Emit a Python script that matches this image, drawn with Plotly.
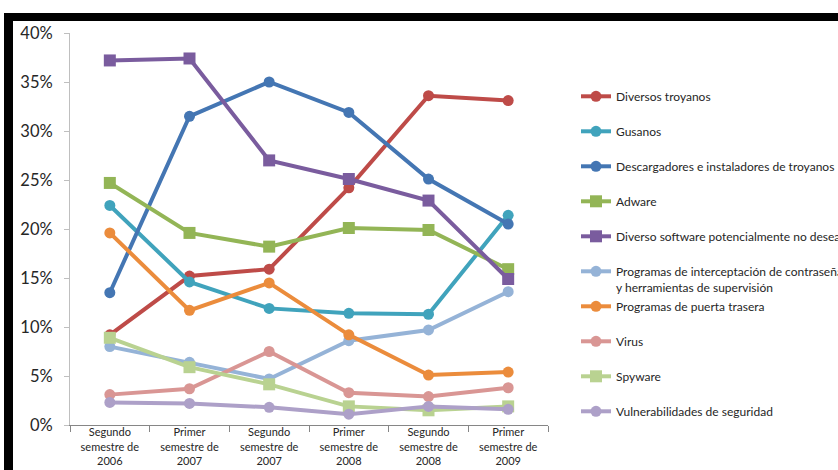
import plotly.graph_objects as go

# Periods (x categories)
periods = [
    "Segundo<br>semestre de<br>2006",
    "Primer<br>semestre de<br>2007",
    "Segundo<br>semestre de<br>2007",
    "Primer<br>semestre de<br>2008",
    "Segundo<br>semestre de<br>2008",
    "Primer<br>semestre de<br>2009",
]

# Share of detections per category, in percent
diversos_troyanos = [9.2, 15.2, 15.9, 24.2, 33.6, 33.1]
gusanos = [22.4, 14.6, 11.9, 11.4, 11.3, 21.4]
descargadores = [13.5, 31.5, 35.0, 31.9, 25.1, 20.5]
adware = [24.7, 19.6, 18.2, 20.1, 19.9, 15.9]
diverso_software = [37.2, 37.4, 27.0, 25.1, 22.9, 14.9]
interceptacion = [8.0, 6.4, 4.7, 8.6, 9.7, 13.6]
puerta_trasera = [19.6, 11.7, 14.5, 9.2, 5.1, 5.4]
virus = [3.1, 3.7, 7.5, 3.3, 2.9, 3.8]
spyware = [8.9, 5.9, 4.15, 1.9, 1.5, 1.9]
vulnerabilidades = [2.3, 2.2, 1.8, 1.1, 1.9, 1.6]

y_ticks = [0, 5, 10, 15, 20, 25, 30, 35, 40]
y_tick_labels = [f"{v}%" for v in y_ticks]

# (name, values, colour, marker symbol, legend box)
series = [
    ("Diversos troyanos", diversos_troyanos, "#BE4B48", "circle", "legend"),
    ("Gusanos", gusanos, "#40A3BC", "circle", "legend"),
    ("Descargadores e instaladores de troyanos", descargadores, "#4476B3", "circle", "legend"),
    ("Adware", adware, "#93B556", "square", "legend"),
    ("Diverso software potencialmente no deseado", diverso_software, "#7A5C9E", "square", "legend"),
    ("Programas de interceptación de contraseñas<br>y herramientas de supervisión",
     interceptacion, "#95B3D7", "circle", "legend"),
    ("Programas de puerta trasera", puerta_trasera, "#EB8C3C", "circle", "legend2"),
    ("Virus", virus, "#D99694", "circle", "legend2"),
    ("Spyware", spyware, "#B9D291", "square", "legend2"),
    ("Vulnerabilidades de seguridad", vulnerabilidades, "#ADA0C8", "circle", "legend2"),
]

FONT = "Lato, sans-serif"

fig = go.Figure()
for i, (name, vals, color, symbol, leg) in enumerate(series):
    fig.add_trace(go.Scatter(
        x=periods, y=vals, name=name, mode="lines+markers",
        line=dict(color=color, width=4),
        marker=dict(symbol=symbol, size=11 if symbol == "circle" else 12, color=color),
        legendgroup=f"g{i}", legend=leg,
    ))

# plot area in pixels: x 70..548, y 33..425
W, H = 838, 470
L, R, T, B = 70, 548, 33, 425


def px(x):
    return (x - L) / (R - L)


def py(y):
    return (B - y) / (B - T)


shapes = [
    # dark frame: top band and left band
    dict(type="rect", xref="paper", yref="paper", x0=px(4), x1=px(840), y0=py(21), y1=py(13),
         fillcolor="black", line=dict(width=0), layer="above"),
    dict(type="rect", xref="paper", yref="paper", x0=px(4), x1=px(13), y0=py(472), y1=py(13),
         fillcolor="black", line=dict(width=0), layer="above"),
]

legend_style = dict(
    xanchor="left", yanchor="top",
    font=dict(family=FONT, size=12, color="#262626"),
    tracegroupgap=16, valign="top", bgcolor="rgba(0,0,0,0)",
    itemwidth=30, maxheight=460,
)

fig.update_layout(
    width=W, height=H,
    margin=dict(l=L, r=W - R, t=T, b=H - B, pad=0, autoexpand=False),
    paper_bgcolor="white", plot_bgcolor="white",
    font=dict(family=FONT, color="#404040"),
    showlegend=True,
    legend=dict(x=px(576), y=py(82), **legend_style),
    legend2=dict(x=px(576), y=py(292), **legend_style),
    xaxis=dict(
        type="category", range=[-0.5, 5.5], tickson="boundaries",
        ticks="outside", ticklen=6, tickcolor="#868686", tickangle=0,
        showline=True, linecolor="#868686", linewidth=1, showgrid=False,
        tickfont=dict(family=FONT, size=11, color="#262626"),
        ticklabelstandoff=-3,
        automargin=False, fixedrange=True,
    ),
    yaxis=dict(
        range=[0, 40], tickvals=y_ticks, ticktext=y_tick_labels,
        ticks="outside", ticklen=5, tickcolor="#BFBFBF",
        showline=True, linecolor="#BFBFBF", linewidth=1, showgrid=False,
        zeroline=False,
        tickfont=dict(family=FONT, size=16.5, color="#262626"),
        ticklabelstandoff=8,
        automargin=False, fixedrange=True,
    ),
    shapes=shapes,
)

fig.write_html("out.html")
